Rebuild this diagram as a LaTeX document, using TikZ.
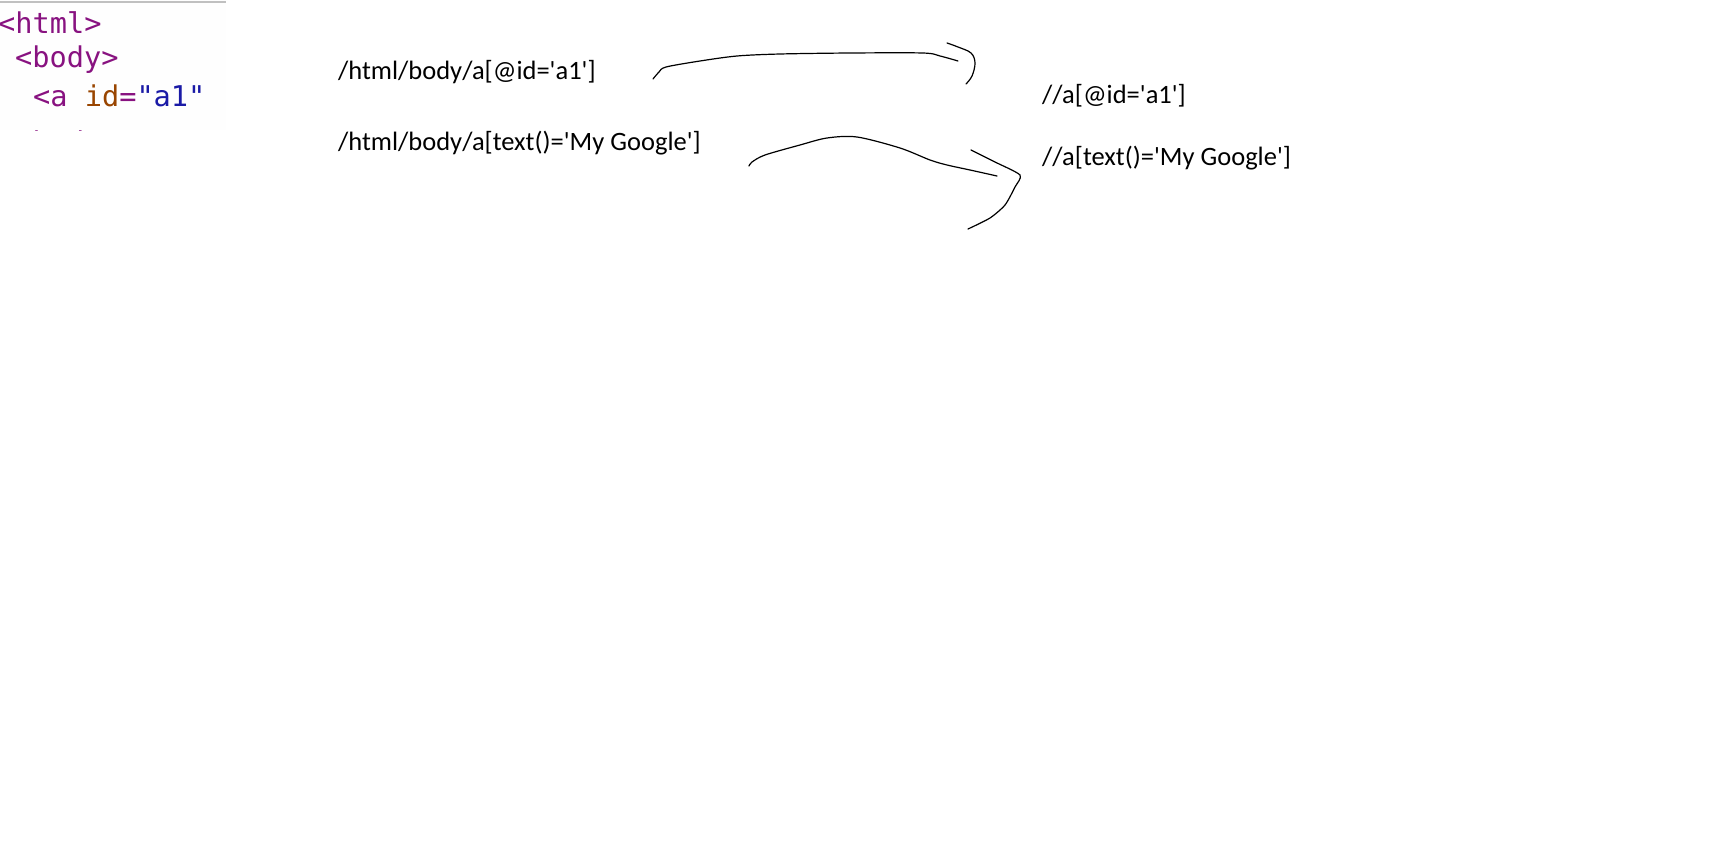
\documentclass[tikz,border=0pt]{standalone}
\usepackage{fontspec}
\setmainfont{Carlito}
\newfontfamily\xpfont{Carlito}
\newfontfamily\codefont{DejaVu Sans Mono}
\definecolor{tagc}{HTML}{881280}
\definecolor{attrc}{HTML}{994500}
\definecolor{valc}{HTML}{1A1AA6}
\definecolor{panelbg}{HTML}{FEFEFE}
\definecolor{panelline}{HTML}{C0C0C0}
\tikzset{
  xp/.style={font=\xpfont\fontsize{26.5}{32}\selectfont, anchor=base west, inner sep=0pt},
  codeline/.style={font=\codefont\fontsize{28.6}{34}\selectfont, anchor=base west, inner sep=0pt},
  stroke/.style={line width=1.2pt, line cap=round, line join=round}
}
\begin{document}
\begin{tikzpicture}[x=1pt,y=-1pt]
\useasboundingbox (0,0) rectangle (1710,854);
\fill[white] (0,0) rectangle (1710,854);
% code panel
\fill[panelbg] (0,0) rectangle (226,130);
\begin{scope}
\clip (0,0) rectangle (226,130);
\node[codeline] (l1) at (-2,33) {\textcolor{tagc}{<html>}};
\node[codeline] (l2) at (15,67) {\textcolor{tagc}{<body>}};
\node[codeline] (l3) at (33,106) {\textcolor{tagc}{<a} \textcolor{attrc}{id}\textcolor{tagc}{=}\textcolor{valc}{"a1"}};
\node[codeline] (l4) at (-2,152) {\textcolor{tagc}{</body>}};
\end{scope}
\fill[panelline] (0,1) rectangle (226,3);
% xpath texts
\node[xp] (abs1) at (338,79) {/html/body/a[@id='a1']};
\node[xp] (abs2) at (338,150) {/html/body/a[text()='My Google']};
\node[xp] (rel1) at (1042,103) {//a[@id='a1']};
\node[xp] (rel2) at (1042,165) {//a[text()='My Google']};
% hand-drawn arrows
\draw[stroke] plot[smooth, tension=0.5] coordinates {(653,79) (659,72) (666,67) (700,61) (737,56) (780,54) (850,53) (923,53) (940,56) (958,61)};
\draw[stroke] plot[smooth, tension=0.6] coordinates {(947,43) (958,47) (971,53) (975,63) (972,76) (966,84)};
\draw[stroke] plot[smooth, tension=0.5] coordinates {(749,166) (752,162) (765,155) (800,145) (827,138) (857,137) (900,148) (930,160) (947,165) (970,170) (997,176)};
\draw[stroke] plot[smooth, tension=0.4] coordinates {(971,150) (995,162) (1020,175) (1015,187) (1005,205) (990,218) (968,229)};
\end{tikzpicture}
\end{document}
